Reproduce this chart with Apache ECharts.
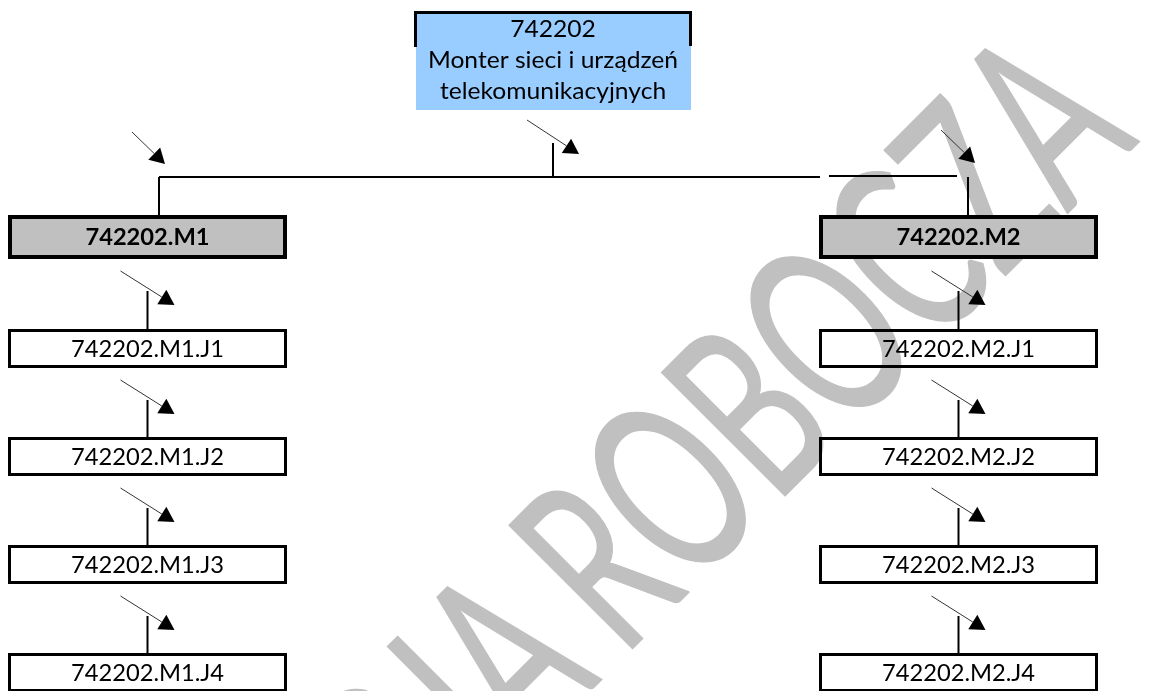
<!DOCTYPE html>
<html>
<head>
<meta charset="utf-8">
<script src="https://cdn.jsdelivr.net/npm/echarts@6/dist/echarts.min.js"></script>
<style>
html,body{margin:0;padding:0;background:#fff;}
#chart{width:1152px;height:691px;}
</style>
</head>
<body>
<div id="chart"></div>
<script>
// ---------------- data ----------------
const rootCode = '742202';
const rootTitle = ['Monter sieci i urządzeń', 'telekomunikacyjnych'];
const modules = ['742202.M1', '742202.M2'];
const unitsM1 = ['742202.M1.J1', '742202.M1.J2', '742202.M1.J3', '742202.M1.J4'];
const unitsM2 = ['742202.M2.J1', '742202.M2.J2', '742202.M2.J3', '742202.M2.J4'];
const watermarkText = 'WERSJA ROBOCZA';

// ---------------- layout (positions / sizes / styles) ----------------
const FONT = 'Lato, "Open Sans", sans-serif';
const L = {
  root: {x: 414, y: 11, w: 278, h: 99, sideH: 36},
  colX: [8, 819], colW: 279,
  modTop: 215, modH: 44,
  unitTop: 329, unitStep: 108, unitH: 39,
  busY: 177
};
const WM = {x: 567, y: 603, rot: 45, font: 152, scaleY: 1.6, gap: 29, color: '#c0c0c0', outline: 1};
const unitLists = [unitsM1, unitsM2];

// boxes
const boxes = [];
modules.forEach((m, c) => {
  boxes.push({x: L.colX[c], y: L.modTop, w: L.colW, h: L.modH, label: m, kind: 'module'});
  unitLists[c].forEach((u, i) => {
    boxes.push({x: L.colX[c], y: L.unitTop + i * L.unitStep, w: L.colW, h: L.unitH, label: u, kind: 'unit'});
  });
});

// connector lines [x1,y1,x2,y2,width]
const links = [];
links.push([553, 143, 553, L.busY, 2]);
links.push([159, L.busY, 820, L.busY, 2]);
links.push([829, L.busY - 1, 957, L.busY - 1, 2]);
links.push([159, L.busY, 159, L.modTop, 2]);
links.push([968, L.busY, 968, L.modTop, 2]);
// arrows [x1,y1,x2,y2]
const arrows = [[132, 132, 165, 164], [527, 120, 579, 154], [941, 130, 975, 163]];
modules.forEach((m, c) => {
  const cx = L.colX[c] + L.colW / 2;
  const bottoms = [L.modTop + L.modH].concat(unitLists[c].slice(0, -1).map((u, i) => L.unitTop + i * L.unitStep + L.unitH));
  bottoms.forEach((b, i) => {
    const nextTop = L.unitTop + i * L.unitStep;
    links.push([cx, b + 32, cx, nextTop, 2]);
    arrows.push([cx - 27, b + 12, cx + 27, b + 46]);
  });
});

const chart = echarts.init(document.getElementById('chart'), null, {renderer: 'canvas'});

function boxRender(params, api) {
  const b = boxes[params.dataIndex];
  const p0 = api.coord([b.x, b.y]);
  const p1 = api.coord([b.x + b.w, b.y + b.h]);
  const lw = b.kind === 'module' ? 4 : 3;
  return {
    type: 'group',
    children: [
      {type: 'rect', shape: {x: p0[0] + lw / 2, y: p0[1] + lw / 2, width: p1[0] - p0[0] - lw, height: p1[1] - p0[1] - lw},
       style: {fill: b.kind === 'module' ? '#c0c0c0' : 'rgba(0,0,0,0)', stroke: '#000', lineWidth: lw}},
      {type: 'text', x: (p0[0] + p1[0]) / 2, y: (p0[1] + p1[1]) / 2 + 1, scaleX: 1.03,
       style: {text: b.label, fill: '#000', font: (b.kind === 'module' ? 'bold ' : '') + '23px ' + FONT, align: 'center', verticalAlign: 'middle'}}
    ]
  };
}
function linkRender(params, api) {
  const d = links[params.dataIndex];
  const a = api.coord([d[0], d[1]]), b = api.coord([d[2], d[3]]);
  return {type: 'line', shape: {x1: a[0], y1: a[1], x2: b[0], y2: b[1]}, style: {stroke: '#000', lineWidth: d[4]}};
}
function arrowRender(params, api) {
  const d = arrows[params.dataIndex];
  const a = api.coord([d[0], d[1]]), t = api.coord([d[2], d[3]]);
  const dx = t[0] - a[0], dy = t[1] - a[1], len = Math.hypot(dx, dy);
  const ux = dx / len, uy = dy / len, nx = -uy, ny = ux;
  const hl = 15, hw = 8.5;
  const bx = t[0] - ux * hl, by = t[1] - uy * hl;
  return {type: 'group', children: [
    {type: 'line', shape: {x1: a[0], y1: a[1], x2: bx, y2: by}, style: {stroke: '#333', lineWidth: 1}},
    {type: 'polygon', shape: {points: [[t[0], t[1]], [bx + nx * hw, by + ny * hw], [bx - nx * hw, by - ny * hw]]}, style: {fill: '#000'}}
  ]};
}
function rootRender(params, api) {
  const r = L.root;
  const p0 = api.coord([r.x, r.y]);
  const p1 = api.coord([r.x + r.w, r.y + r.h]);
  const cx = (p0[0] + p1[0]) / 2;
  const children = [
    {type: 'rect', shape: {x: p0[0] + 2, y: p0[1] + 2, width: p1[0] - p0[0] - 3, height: p1[1] - p0[1] - 2}, style: {fill: '#99ccff'}},
    {type: 'polyline', shape: {points: [[p0[0] + 1.5, p0[1] + r.sideH], [p0[0] + 1.5, p0[1] + 1.5], [p1[0] - 1.5, p0[1] + 1.5], [p1[0] - 1.5, p0[1] + r.sideH - 1]]},
     style: {stroke: '#000', lineWidth: 3, fill: null}}
  ];
  const lines = [rootCode].concat(rootTitle);
  lines.forEach((t, i) => {
    children.push({type: 'text', x: cx, y: p0[1] + 19 + i * 31, scaleX: 1.07,
      style: {text: t, fill: '#000', font: '23px ' + FONT, align: 'center', verticalAlign: 'middle'}});
  });
  return {type: 'group', children};
}

const wmWords = watermarkText.split(' ');
const wmStyle = {fill: WM.color, font: WM.font + 'px ' + FONT, verticalAlign: 'middle',
                 stroke: WM.color, lineWidth: WM.outline, lineJoin: 'round'};

chart.setOption({
  animation: false,
  grid: {left: 0, right: 0, top: 0, bottom: 0},
  xAxis: {type: 'value', min: 0, max: 1152, show: false},
  yAxis: {type: 'value', min: 0, max: 691, inverse: true, show: false},
  graphic: [{
    type: 'group', z: -10, x: WM.x, y: WM.y, rotation: WM.rot * Math.PI / 180, scaleY: WM.scaleY, silent: true,
    children: [
      {type: 'text', x: 0, y: 0, style: Object.assign({text: wmWords[1], align: 'left'}, wmStyle)},
      {type: 'text', x: -WM.gap, y: 0, style: Object.assign({text: wmWords[0], align: 'right'}, wmStyle)}
    ]
  }],
  series: [
    {type: 'custom', name: 'links', coordinateSystem: 'cartesian2d', renderItem: linkRender, data: links.map(d => [d[0], d[1]]), clip: false, z: 2},
    {type: 'custom', name: 'arrows', coordinateSystem: 'cartesian2d', renderItem: arrowRender, data: arrows.map(d => [d[0], d[1]]), clip: false, z: 3},
    {type: 'custom', name: 'root', coordinateSystem: 'cartesian2d', renderItem: rootRender, data: [[L.root.x, L.root.y]], clip: false, z: 4},
    {type: 'custom', name: 'boxes', coordinateSystem: 'cartesian2d', renderItem: boxRender, data: boxes.map(b => [b.x, b.y]), clip: false, z: 4}
  ]
});
</script>
</body>
</html>
